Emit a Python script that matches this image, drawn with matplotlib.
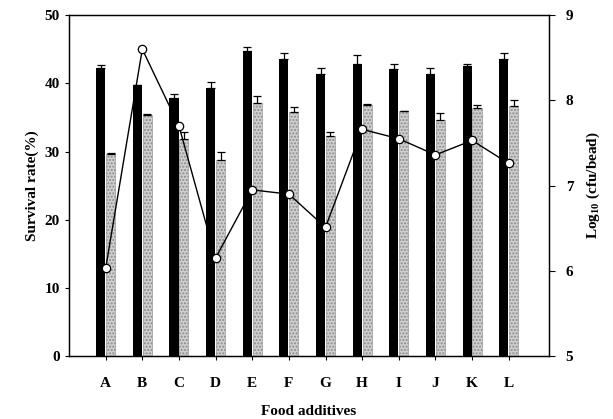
import matplotlib.pyplot as plt
import numpy as np

plt.rcParams['font.family'] = ['Liberation Serif', 'DejaVu Serif']
plt.rcParams['font.weight'] = 'bold'
plt.rcParams['mathtext.fontset'] = 'custom'
plt.rcParams['mathtext.rm'] = 'Liberation Serif:bold'
plt.rcParams['mathtext.default'] = 'rm'

# Data
additives = ['A', 'B', 'C', 'D', 'E', 'F', 'G', 'H', 'I', 'J', 'K', 'L']
survival_black = [42.3, 39.7, 37.8, 39.3, 44.7, 43.6, 41.4, 42.8, 42.1, 41.3, 42.6, 43.5]
survival_black_err = [0.4, 0.1, 0.7, 0.9, 0.6, 0.8, 0.9, 1.3, 0.7, 0.9, 0.3, 1.0]
survival_grey = [29.7, 35.3, 31.9, 28.7, 37.1, 35.8, 32.3, 36.8, 35.9, 34.6, 36.4, 36.6]
survival_grey_err = [0.1, 0.2, 0.9, 1.2, 1.1, 0.7, 0.5, 0.1, 0.1, 1.1, 0.4, 0.9]
log_cfu = [6.03, 8.60, 7.70, 6.15, 6.95, 6.90, 6.51, 7.66, 7.55, 7.36, 7.53, 7.26]

x = np.arange(len(additives))
width = 0.25
offset = 0.135

fig = plt.figure(figsize=(6.13, 4.19), dpi=100)
ax = fig.add_axes([0.1126, 0.150, 0.783, 0.814])

zeros = np.zeros(len(x))
ax.bar(x - offset, survival_black, width, color='black',
       yerr=[zeros, survival_black_err], capsize=3,
       error_kw=dict(ecolor='black', elinewidth=0.9, capthick=0.9))
ax.bar(x + offset, survival_grey, width, color='#d0d0d0', edgecolor='#8a8a8a',
       hatch='.....', linewidth=0.4,
       yerr=[zeros, survival_grey_err], capsize=3,
       error_kw=dict(ecolor='black', elinewidth=0.9, capthick=0.9))

ax.set_xlim(-1, 12.1)
ax.set_ylim(0, 50)
ax.set_yticks([0, 10, 20, 30, 40, 50])
ax.set_xticks(x)
ax.set_xticklabels(additives)
ax.tick_params(axis='both', direction='out', length=3, labelsize=11, width=0.8)
ax.tick_params(axis='x', pad=12)
ax.set_ylabel('Survival rate(%)', fontsize=11, fontweight='bold')
ax.set_xlabel('Food additives', fontsize=11, fontweight='bold', labelpad=11)

ax2 = ax.twinx()
ax2.plot(x, log_cfu, color='black', linewidth=1, marker='o', markersize=6,
         markerfacecolor='white', markeredgecolor='black', markeredgewidth=0.9)
ax2.set_ylim(5, 9)
ax2.set_yticks([5, 6, 7, 8, 9])
ax2.tick_params(axis='y', direction='out', length=4, labelsize=11, width=0.8, pad=8)
ax2.set_ylabel('Log$_{10}$ (cfu/bead)', fontsize=11, fontweight='bold', labelpad=8)

for a in (ax, ax2):
    for s in a.spines.values():
        s.set_linewidth(0.9)

for lab in ax.get_xticklabels() + ax.get_yticklabels() + ax2.get_yticklabels():
    lab.set_fontweight('bold')

fig.savefig('out.png', dpi=100)
